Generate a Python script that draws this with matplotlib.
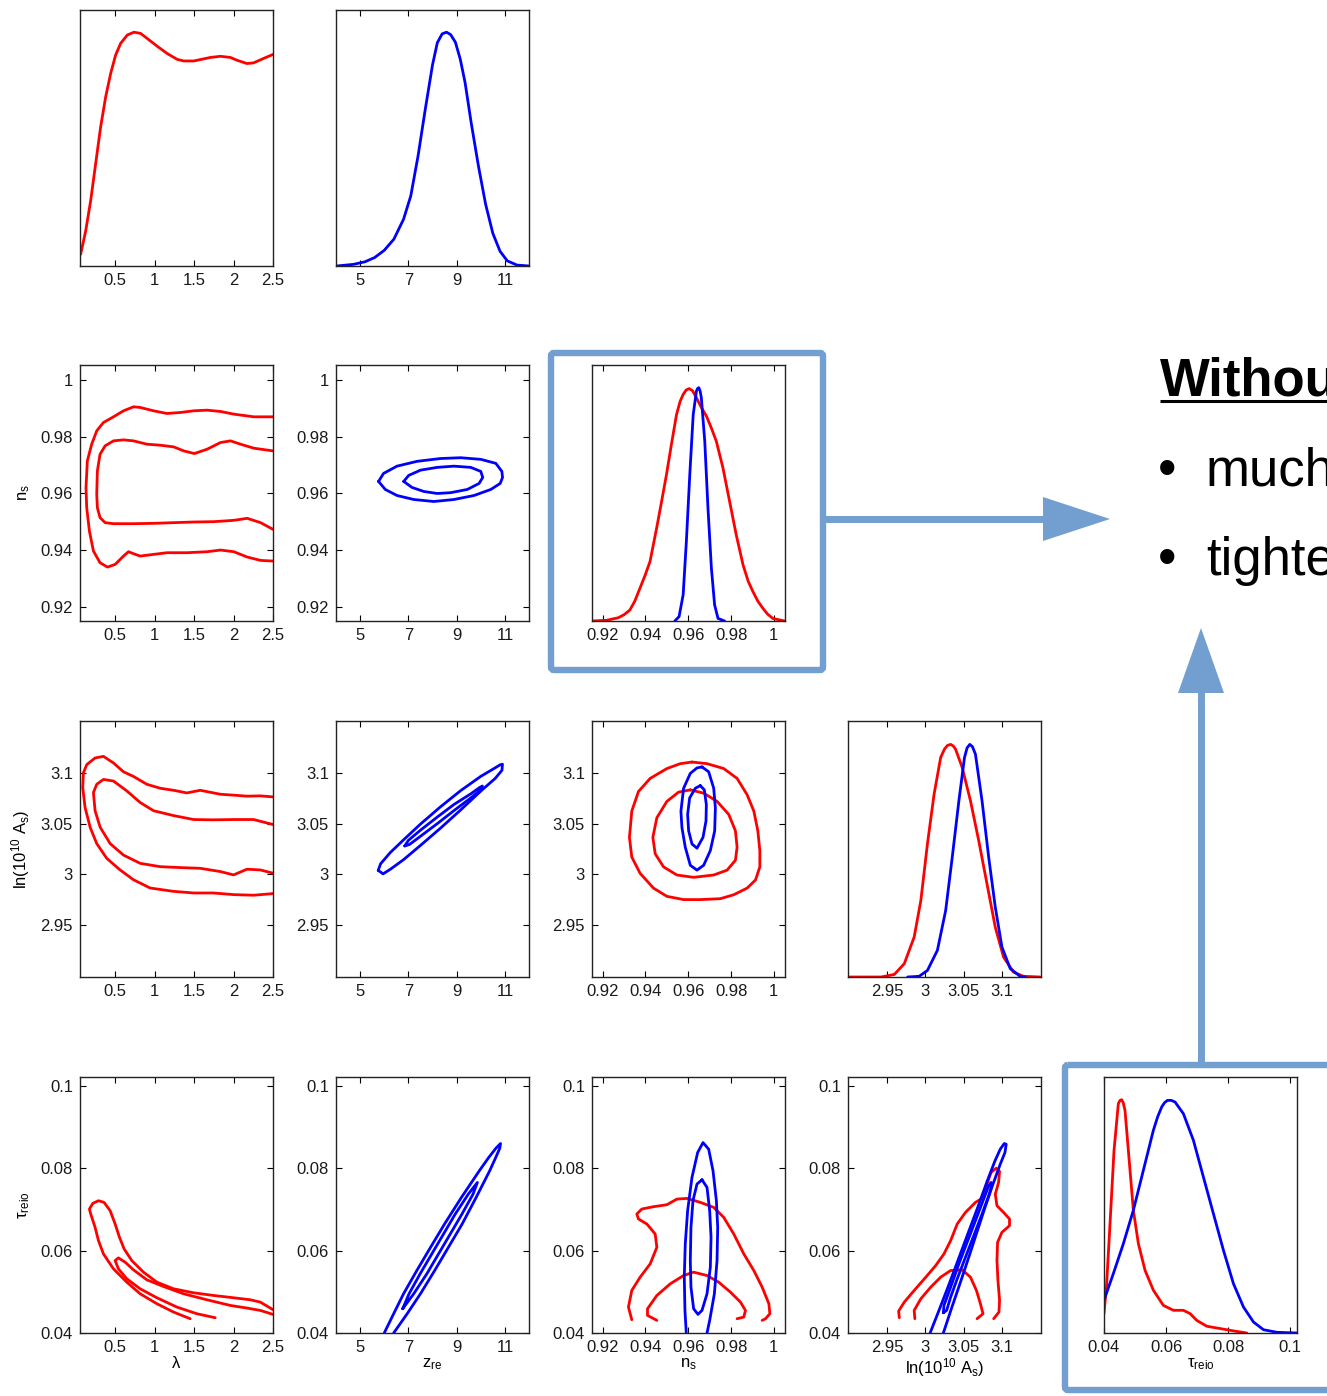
import matplotlib
matplotlib.use('Agg')
import matplotlib.pyplot as plt
from matplotlib.patches import Polygon, FancyBboxPatch

plt.rcParams['font.family'] = ['Liberation Sans', 'DejaVu Sans']
plt.rcParams['mathtext.fontset'] = 'custom'
plt.rcParams['mathtext.rm'] = 'Liberation Sans'
plt.rcParams['mathtext.it'] = 'Liberation Sans:italic'
plt.rcParams['mathtext.default'] = 'regular'

RED = '#ff0000'
BLUE = '#0000ff'
FRAME = '#729fcf'

# ---- parameter ranges / ticks ----
lam_lim = (0.055, 2.5)
lam_ticks = [0.5, 1, 1.5, 2, 2.5]
lam_labels = ['0.5', '1', '1.5', '2', '2.5']
zre_lim = (4, 12)
zre_ticks = [5, 7, 9, 11]
zre_labels = ['5', '7', '9', '11']
ns_lim = (0.915, 1.0052)
ns_ticks = [0.92, 0.94, 0.96, 0.98, 1.0]
ns_labels = ['0.92', '0.94', '0.96', '0.98', '1']
las_lim = (2.899, 3.151)
las_ticks = [2.95, 3.0, 3.05, 3.1]
las_labels = ['2.95', '3', '3.05', '3.1']
tau_lim = (0.04, 0.1022)
tau_ticks = [0.04, 0.06, 0.08, 0.1]
tau_labels = ['0.04', '0.06', '0.08', '0.1']

# ---- 1D marginals ----
lam_1d_x = [0.063, 0.127, 0.19, 0.253, 0.316, 0.38, 0.443, 0.506, 0.569, 0.654, 0.738,
            0.822, 0.907, 1.033, 1.159, 1.286, 1.37, 1.497, 1.581, 1.707, 1.834, 1.96,
            2.045, 2.171, 2.255, 2.382, 2.5]
lam_1d_red = [0.05, 0.15, 0.279, 0.437, 0.594, 0.723, 0.823, 0.902, 0.952, 0.988, 1.0,
              0.995, 0.973, 0.94, 0.909, 0.884, 0.877, 0.877, 0.883, 0.892, 0.897, 0.892,
              0.88, 0.866, 0.869, 0.888, 0.905]

zre_1d_x = [4.03, 4.72, 5.2, 5.6, 6.0, 6.4, 6.8, 7.1, 7.4, 7.7, 8.0, 8.2, 8.4, 8.58, 8.75,
            8.95, 9.15, 9.35, 9.6, 9.9, 10.2, 10.5, 10.8, 11.1, 11.5, 12.0]
zre_1d_blue = [0.0, 0.007, 0.018, 0.036, 0.067, 0.115, 0.2, 0.3, 0.47, 0.67, 0.86, 0.955,
               0.993, 1.0, 0.99, 0.957, 0.885, 0.785, 0.615, 0.43, 0.265, 0.14, 0.063,
               0.022, 0.004, 0.0]

ns_1d_red_x = [0.915, 0.9219, 0.9273, 0.930, 0.9327, 0.935, 0.9374, 0.9398, 0.9421, 0.9452,
               0.9475, 0.9498, 0.9522, 0.9545, 0.9562, 0.9576, 0.959, 0.9604, 0.962,
               0.9638, 0.966, 0.9685, 0.9708, 0.9731, 0.9762, 0.9793, 0.9824, 0.9856,
               0.988, 0.9902, 0.9925, 0.9949, 0.997, 0.9995, 1.005]
ns_1d_red = [0.0, 0.003, 0.014, 0.027, 0.047, 0.085, 0.14, 0.195, 0.254, 0.397, 0.51,
             0.626, 0.76, 0.883, 0.94, 0.969, 0.988, 0.994, 0.985, 0.955, 0.915, 0.876,
             0.825, 0.769, 0.655, 0.512, 0.369, 0.24, 0.17, 0.126, 0.085, 0.054, 0.03,
             0.011, 0.0]
ns_1d_blue_x = [0.9537, 0.9557, 0.9576, 0.9591, 0.9607, 0.9623, 0.9638, 0.9643, 0.9649,
                0.9655, 0.9661, 0.9677, 0.9692, 0.9708, 0.9723, 0.9739, 0.977]
ns_1d_blue = [0.0, 0.019, 0.112, 0.34, 0.626, 0.883, 0.983, 0.994, 0.998, 0.985, 0.955,
              0.769, 0.483, 0.226, 0.069, 0.011, 0.0]

las_1d_red_x = [2.9012, 2.9422, 2.9595, 2.9725, 2.9854, 2.9941, 3.0027, 3.0114, 3.02,
                3.025, 3.0287, 3.033, 3.0365, 3.0395, 3.0481, 3.0589, 3.0697, 3.0805,
                3.0913, 3.1021, 3.1151, 3.128, 3.1497]
las_1d_red = [0.0, 0.0, 0.011, 0.057, 0.171, 0.327, 0.569, 0.782, 0.939, 0.975, 0.99,
              0.995, 0.988, 0.974, 0.896, 0.754, 0.583, 0.398, 0.213, 0.085, 0.021, 0.003,
              0.0]
las_1d_blue_x = [2.9768, 2.9919, 3.0027, 3.0157, 3.0265, 3.0351, 3.0438, 3.0511, 3.0545,
                 3.058, 3.0615, 3.0654, 3.074, 3.0827, 3.0913, 3.1, 3.1108, 3.1237, 3.1302]
las_1d_blue = [0.0, 0.003, 0.028, 0.114, 0.284, 0.512, 0.754, 0.939, 0.98, 0.995, 0.985,
               0.953, 0.754, 0.512, 0.299, 0.128, 0.036, 0.003, 0.0]

tau_1d_red_x = [0.04, 0.04086, 0.04194, 0.04323, 0.04462, 0.04515, 0.0457, 0.0462, 0.04677,
                0.04785, 0.04946, 0.05108, 0.05323, 0.05591, 0.05914, 0.06237, 0.06559,
                0.06774, 0.06989, 0.07312, 0.07742, 0.08172, 0.08602]
tau_1d_red = [0.083, 0.211, 0.468, 0.781, 0.981, 0.995, 0.998, 0.985, 0.952, 0.781, 0.525,
              0.382, 0.268, 0.183, 0.118, 0.097, 0.097, 0.083, 0.054, 0.029, 0.019, 0.009,
              0.0]
tau_1d_blue_x = [0.04, 0.04301, 0.04624, 0.04946, 0.05269, 0.05591, 0.0573, 0.0586, 0.0595,
                 0.06043, 0.0617, 0.0629, 0.06559, 0.06882, 0.07204, 0.07527, 0.07849,
                 0.08172, 0.08495, 0.08817, 0.0914, 0.0957, 0.1022]
tau_1d_blue = [0.14, 0.254, 0.382, 0.525, 0.696, 0.867, 0.925, 0.967, 0.985, 0.995, 0.995,
               0.988, 0.938, 0.824, 0.667, 0.51, 0.354, 0.211, 0.111, 0.047, 0.014, 0.003,
               0.0]

# ---- 2D contours (68% inner, 95% outer) ----
# lambda - n_s (red)
lam_ns_out_x = [2.5, 2.258, 2.004, 1.835, 1.665, 1.496, 1.326, 1.157, 0.987, 0.818, 0.733,
                0.606, 0.479, 0.352, 0.267, 0.203, 0.148, 0.131, 0.14, 0.174, 0.225, 0.309,
                0.403, 0.5, 0.606, 0.669, 0.733, 0.818, 0.987, 1.157, 1.411, 1.665, 1.835,
                2.004, 2.174, 2.343, 2.5]
lam_ns_out_y = [0.98694, 0.98694, 0.98788, 0.98882, 0.98929, 0.98906, 0.98847, 0.98812,
                0.98906, 0.99024, 0.99047, 0.98906, 0.98694, 0.98494, 0.982, 0.97729,
                0.97141, 0.962, 0.95494, 0.94671, 0.93965, 0.93553, 0.934, 0.93494,
                0.93788, 0.93941, 0.93871, 0.93788, 0.93847, 0.93906, 0.93906, 0.93941,
                0.94, 0.93941, 0.93753, 0.93635, 0.93612]
lam_ns_in_x = [2.5, 2.258, 2.089, 1.962, 1.835, 1.665, 1.504, 1.369, 1.242, 1.072, 0.903,
               0.733, 0.606, 0.479, 0.373, 0.309, 0.275, 0.267, 0.275, 0.309, 0.373, 0.479,
               0.733, 0.987, 1.242, 1.496, 1.75, 2.004, 2.174, 2.343, 2.5]
lam_ns_in_y = [0.97494, 0.97588, 0.97729, 0.97847, 0.97788, 0.97553, 0.974, 0.97494,
               0.97635, 0.97694, 0.97729, 0.97847, 0.97882, 0.97847, 0.97671, 0.97376,
               0.96788, 0.95965, 0.95494, 0.95141, 0.94965, 0.94929, 0.94929, 0.94941,
               0.94965, 0.94988, 0.95, 0.95047, 0.95118, 0.94965, 0.94729]

# z_re - n_s (blue)
zre_ns_out_x = [5.764, 5.972, 6.528, 7.361, 8.333, 9.167, 10.0, 10.625, 10.875, 10.903,
                10.806, 10.417, 9.722, 8.889, 8.056, 7.222, 6.528, 6.042]
zre_ns_out_y = [0.96418, 0.96701, 0.96956, 0.97126, 0.97225, 0.97253, 0.97196, 0.97055,
                0.96772, 0.96559, 0.96347, 0.96135, 0.95922, 0.95781, 0.9571, 0.95781,
                0.95922, 0.96135]
zre_ns_in_x = [6.806, 7.014, 7.5, 8.194, 8.889, 9.583, 10.0, 10.083, 9.931, 9.444, 8.75,
               8.194, 7.639, 7.153]
zre_ns_in_y = [0.96418, 0.9663, 0.96814, 0.96913, 0.96956, 0.96913, 0.96772, 0.96559,
               0.96347, 0.96135, 0.96021, 0.95993, 0.96064, 0.96205]

# lambda - ln(10^10 A_s) (red)
lam_las_out_x = [2.5, 2.339, 2.17, 2.001, 1.832, 1.578, 1.409, 1.24, 1.071, 0.902, 0.733,
                 0.606, 0.479, 0.352, 0.246, 0.141, 0.098, 0.09, 0.119, 0.183, 0.267, 0.394,
                 0.563, 0.733, 0.944, 1.24, 1.494, 1.747, 2.001, 2.255, 2.5]
lam_las_out_y = [3.0763, 3.0773, 3.077, 3.078, 3.0789, 3.0828, 3.0802, 3.0828, 3.0848,
                 3.0887, 3.0964, 3.101, 3.1097, 3.1162, 3.1146, 3.1081, 3.1, 3.0854, 3.066,
                 3.0465, 3.0303, 3.0158, 3.0044, 2.9947, 2.9866, 2.9833, 2.9817, 2.9817,
                 2.9801, 2.9795, 2.9811]
lam_las_in_x = [2.5, 2.255, 2.001, 1.747, 1.494, 1.24, 0.986, 0.817, 0.648, 0.479, 0.352,
                0.267, 0.225, 0.246, 0.31, 0.437, 0.606, 0.817, 1.071, 1.325, 1.578, 1.832,
                2.001, 2.17, 2.339, 2.5]
lam_las_in_y = [3.0491, 3.054, 3.054, 3.0537, 3.054, 3.0579, 3.0627, 3.0708, 3.0822,
                3.0919, 3.0935, 3.0887, 3.0806, 3.0627, 3.0465, 3.0303, 3.019, 3.0109,
                3.0076, 3.0067, 3.006, 3.0028, 2.9995, 3.0051, 3.0044, 3.0012]

# z_re - ln(10^10 A_s) (blue)
zre_las_out_x = [5.75, 5.85, 6.25, 6.8, 7.5, 8.33, 9.17, 10.0, 10.5, 10.8, 10.9, 10.88,
                 10.6, 10.0, 9.17, 8.33, 7.5, 6.8, 6.25, 5.95]
zre_las_out_y = [3.004, 3.0105, 3.0215, 3.034, 3.0495, 3.0665, 3.0825, 3.0965, 3.1035,
                 3.1078, 3.1085, 3.1025, 3.0945, 3.082, 3.0635, 3.0455, 3.0285, 3.0145,
                 3.005, 3.0005]
zre_las_in_x = [6.85, 7.0, 7.5, 8.2, 8.9, 9.6, 9.95, 10.07, 10.02, 9.6, 8.9, 8.2, 7.5,
                7.05]
zre_las_in_y = [3.028, 3.0335, 3.0435, 3.0565, 3.069, 3.0795, 3.0855, 3.087, 3.0835,
                3.0755, 3.063, 3.050, 3.0375, 3.0295]

# n_s - ln(10^10 A_s)
ns_las_red_out_x = [0.96172, 0.96875, 0.97656, 0.98281, 0.9875, 0.99063, 0.9925, 0.99344,
                    0.99344, 0.99141, 0.9875, 0.98125, 0.975, 0.96563, 0.95781, 0.95,
                    0.94375, 0.9375, 0.93359, 0.9325, 0.93359, 0.93672, 0.94219, 0.95,
                    0.95625]
ns_las_red_out_y = [3.1106, 3.109, 3.1042, 3.0945, 3.0784, 3.0623, 3.0429, 3.0235, 3.0074,
                    2.9945, 2.9865, 2.98, 2.9761, 2.9752, 2.9752, 2.9784, 2.9865, 3.001,
                    3.0171, 3.0365, 3.0623, 3.0816, 3.0945, 3.1042, 3.109]
ns_las_red_in_x = [0.96094, 0.96719, 0.97344, 0.97891, 0.98203, 0.98281, 0.98203, 0.97813,
                   0.97188, 0.9625, 0.95469, 0.94844, 0.94453, 0.94344, 0.94531, 0.95,
                   0.95547]
ns_las_red_in_y = [3.0832, 3.08, 3.0719, 3.059, 3.0429, 3.0268, 3.0139, 3.0042, 2.9994,
                   2.9971, 2.9994, 3.0074, 3.0203, 3.0365, 3.0558, 3.0719, 3.081]
ns_las_blue_out_x = [0.96641, 0.96953, 0.97188, 0.97266, 0.97234, 0.97031, 0.96719,
                     0.96406, 0.96094, 0.95859, 0.95703, 0.95656, 0.95781, 0.96094, 0.96406]
ns_las_blue_out_y = [3.1058, 3.101, 3.0848, 3.0655, 3.0429, 3.0235, 3.009, 3.0042, 3.009,
                     3.0268, 3.0461, 3.0623, 3.0848, 3.0994, 3.1048]
ns_las_blue_in_x = [0.96563, 0.9675, 0.96844, 0.96828, 0.96688, 0.96406, 0.96172, 0.96016,
                    0.95969, 0.96063, 0.96328]
ns_las_blue_in_y = [3.0874, 3.0832, 3.0687, 3.0526, 3.0365, 3.0258, 3.03, 3.0429, 3.059,
                    3.0752, 3.0848]

# lambda - tau (red)
lam_tau_out_x = [1.451, 1.24, 1.029, 0.817, 0.648, 0.479, 0.352, 0.289, 0.246, 0.191,
                 0.174, 0.217, 0.289, 0.36, 0.437, 0.5, 0.555, 0.614, 0.711, 0.859, 1.029,
                 1.24, 1.494, 1.747, 2.001, 2.212, 2.339, 2.445, 2.5]
lam_tau_out_y = [0.04347, 0.04509, 0.04711, 0.04953, 0.05235, 0.05558, 0.05922, 0.06245,
                 0.06568, 0.06891, 0.07012, 0.07149, 0.07214, 0.07174, 0.06972, 0.06649,
                 0.06326, 0.06043, 0.0576, 0.05478, 0.05235, 0.05074, 0.04977, 0.04912,
                 0.04856, 0.04807, 0.04751, 0.0463, 0.04565]
lam_tau_in_x = [1.768, 1.536, 1.282, 1.029, 0.817, 0.648, 0.542, 0.5, 0.542, 0.627, 0.733,
                0.902, 1.113, 1.367, 1.663, 1.959, 2.17, 2.339, 2.5]
lam_tau_in_y = [0.04371, 0.04468, 0.0463, 0.04856, 0.05074, 0.05316, 0.05558, 0.0576,
                0.05825, 0.0572, 0.05534, 0.05292, 0.0513, 0.04953, 0.04807, 0.0467,
                0.04606, 0.04549, 0.04452]

# z_re - tau (blue)
zre_tau_out_x = [6.0, 6.39, 6.8, 7.35, 7.92, 8.5, 9.2, 9.94, 10.33, 10.63, 10.819, 10.79,
                 10.62, 10.37, 9.81, 9.23, 8.66, 8.09, 7.5, 6.95, 6.39]
zre_tau_out_y = [0.04, 0.04468, 0.04953, 0.05518, 0.06083, 0.06649, 0.07295, 0.07941,
                 0.08264, 0.0849, 0.08603, 0.0849, 0.08264, 0.07941, 0.07295, 0.06649,
                 0.06083, 0.05518, 0.04953, 0.04468, 0.04]
zre_tau_in_x = [6.764, 7.028, 7.486, 7.972, 8.458, 8.944, 9.486, 9.861, 9.681, 9.222,
                8.736, 8.25, 7.764, 7.222]
zre_tau_in_y = [0.04589, 0.04953, 0.05437, 0.05922, 0.06406, 0.06891, 0.07375, 0.07658,
                0.07375, 0.06891, 0.06406, 0.05922, 0.05437, 0.04953]

# n_s - tau
ns_tau_blue_out_x = [0.95906, 0.95844, 0.95813, 0.95859, 0.95969, 0.96172, 0.96438,
                     0.96688, 0.96953, 0.97156, 0.97313, 0.97375, 0.97344, 0.97219, 0.97,
                     0.96875]
ns_tau_blue_out_y = [0.04, 0.04549, 0.05357, 0.06164, 0.06972, 0.07779, 0.08385, 0.08627,
                     0.08466, 0.07941, 0.07214, 0.06568, 0.0576, 0.04953, 0.04307, 0.04]
ns_tau_blue_in_x = [0.96641, 0.96875, 0.97, 0.97063, 0.97031, 0.96875, 0.96641, 0.96453,
                    0.9625, 0.96125, 0.96094, 0.96125, 0.96219, 0.96406]
ns_tau_blue_in_y = [0.07723, 0.07537, 0.06972, 0.06326, 0.05599, 0.04953, 0.04549,
                    0.04452, 0.04589, 0.05114, 0.0576, 0.06568, 0.07214, 0.07618]
ns_tau_red_out_x = [0.93359, 0.93203, 0.93359, 0.9375, 0.94219, 0.94531, 0.94453, 0.94063,
                    0.93672, 0.93594, 0.93828, 0.94375, 0.95, 0.95469, 0.95938, 0.96563,
                    0.97188, 0.97656, 0.98125, 0.98594, 0.99063, 0.99453, 0.99766, 0.99813,
                    0.99609, 0.99453]
ns_tau_red_out_y = [0.04323, 0.0463, 0.05034, 0.05357, 0.0568, 0.06083, 0.06406, 0.06649,
                    0.0677, 0.06891, 0.07012, 0.07069, 0.07117, 0.07254, 0.0727, 0.07174,
                    0.07052, 0.0681, 0.06406, 0.05922, 0.05518, 0.05114, 0.04711, 0.04468,
                    0.04347, 0.04307]
ns_tau_red_in_x = [0.94531, 0.94094, 0.94094, 0.94531, 0.95156, 0.95781, 0.9625, 0.96875,
                   0.97422, 0.97969, 0.98438, 0.98672, 0.98594, 0.98281]
ns_tau_red_in_y = [0.04307, 0.04428, 0.04589, 0.04912, 0.05195, 0.05397, 0.05478, 0.05397,
                   0.05235, 0.04993, 0.04751, 0.04549, 0.04388, 0.04347]

# ln(10^10 A_s) - tau
las_tau_blue_out_x = [3.0062, 3.0161, 3.0295, 3.0425, 3.0554, 3.0684, 3.0809, 3.0909,
                      3.0978, 3.103, 3.1056, 3.1039, 3.0978, 3.0883, 3.0779, 3.068, 3.0567,
                      3.0451, 3.0347, 3.0235]
las_tau_blue_out_y = [0.04, 0.04468, 0.05114, 0.05761, 0.06406, 0.07052, 0.07698, 0.08183,
                      0.08466, 0.08603, 0.08587, 0.08385, 0.08102, 0.07618, 0.07052,
                      0.06487, 0.05841, 0.05195, 0.0463, 0.04]
las_tau_blue_in_x = [3.0235, 3.0243, 3.033, 3.0438, 3.0546, 3.0654, 3.0753, 3.0827,
                     3.0857, 3.087, 3.0827, 3.074, 3.0632, 3.0524, 3.0416, 3.033, 3.0278]
las_tau_blue_in_y = [0.04492, 0.0467, 0.05114, 0.0568, 0.06205, 0.06729, 0.07214, 0.07577,
                     0.07658, 0.07602, 0.07335, 0.06891, 0.06366, 0.05841, 0.05316,
                     0.04872, 0.04549]
las_tau_red_out_x = [2.966, 2.9651, 2.9725, 2.9854, 3.0006, 3.0135, 3.0243, 3.033, 3.0416,
                     3.0524, 3.0654, 3.0762, 3.0805, 3.0857, 3.0926, 3.0969, 3.0956, 3.0913,
                     3.0935, 3.1021, 3.1099, 3.1099, 3.1, 3.0943, 3.0935, 3.0948, 3.0969,
                     3.0961, 3.0892]
las_tau_red_out_y = [0.04371, 0.04533, 0.04751, 0.05034, 0.05357, 0.05639, 0.05922,
                     0.06245, 0.06649, 0.06931, 0.07174, 0.07295, 0.07618, 0.079, 0.08005,
                     0.07925, 0.07658, 0.07375, 0.07093, 0.06931, 0.0677, 0.06608, 0.06447,
                     0.06204, 0.0576, 0.05276, 0.04791, 0.04509, 0.04347]
las_tau_red_in_x = [2.9863, 2.9854, 2.9941, 3.007, 3.02, 3.033, 3.0481, 3.0589, 3.0667,
                    3.0719, 3.0753, 3.0675]
las_tau_red_in_y = [0.04347, 0.04549, 0.04832, 0.05114, 0.05357, 0.05518, 0.05534,
                    0.05357, 0.05034, 0.04711, 0.04468, 0.04347]

# ---- layout (pixels) ----
W, H = 1327, 1396
col_left = [80, 336, 592, 848, 1104]
row_top = [10, 365, 721, 1077]
PW, PH = 193, 256

fig = plt.figure(figsize=(W / 100, H / 100), dpi=100)


def panel(col, row, xr, xt, xl, yr=None, yt=None, yl=None):
    ax = fig.add_axes([col_left[col] / W, 1 - (row_top[row] + PH) / H, PW / W, PH / H])
    ax.set_xlim(xr)
    ax.set_xticks(xt)
    ax.set_xticklabels(xl)
    if yr is None:
        ax.set_ylim(0, 1.095)
        ax.set_yticks([])
    else:
        ax.set_ylim(yr)
        ax.set_yticks(yt)
        ax.set_yticklabels(yl)
    ax.tick_params(direction='in', top=True, right=True, length=4, width=0.8,
                   labelsize=12, pad=5, labelcolor='#1a1a1a')
    for s in ax.spines.values():
        s.set_linewidth(1.0)
        s.set_color('#222222')
    return ax


def line(ax, x, y, c, closed=False):
    if closed:
        x = list(x) + [x[0]]
        y = list(y) + [y[0]]
    ax.plot(x, y, color=c, lw=2.0, solid_joinstyle='round', solid_capstyle='round')


# row 0: marginals of lambda and z_re
ax = panel(0, 0, lam_lim, lam_ticks, lam_labels)
line(ax, lam_1d_x, lam_1d_red, RED)
ax = panel(1, 0, zre_lim, zre_ticks, zre_labels)
line(ax, zre_1d_x, zre_1d_blue, BLUE)

# row 1: n_s
ax = panel(0, 1, lam_lim, lam_ticks, lam_labels, ns_lim, ns_ticks, ns_labels)
line(ax, lam_ns_out_x, lam_ns_out_y, RED)
line(ax, lam_ns_in_x, lam_ns_in_y, RED)
ax.set_ylabel('n$_s$', fontsize=12, labelpad=6)
ax = panel(1, 1, zre_lim, zre_ticks, zre_labels, ns_lim, ns_ticks, ns_labels)
line(ax, zre_ns_out_x, zre_ns_out_y, BLUE, closed=True)
line(ax, zre_ns_in_x, zre_ns_in_y, BLUE, closed=True)
ax = panel(2, 1, ns_lim, ns_ticks, ns_labels)
line(ax, ns_1d_red_x, ns_1d_red, RED)
line(ax, ns_1d_blue_x, ns_1d_blue, BLUE)

# row 2: ln(10^10 A_s)
ax = panel(0, 2, lam_lim, lam_ticks, lam_labels, las_lim, las_ticks, las_labels)
line(ax, lam_las_out_x, lam_las_out_y, RED)
line(ax, lam_las_in_x, lam_las_in_y, RED)
ax.set_ylabel('ln(10$^{10}$ A$_s$)', fontsize=12, labelpad=6)
ax = panel(1, 2, zre_lim, zre_ticks, zre_labels, las_lim, las_ticks, las_labels)
line(ax, zre_las_out_x, zre_las_out_y, BLUE, closed=True)
line(ax, zre_las_in_x, zre_las_in_y, BLUE, closed=True)
ax = panel(2, 2, ns_lim, ns_ticks, ns_labels, las_lim, las_ticks, las_labels)
line(ax, ns_las_red_out_x, ns_las_red_out_y, RED, closed=True)
line(ax, ns_las_red_in_x, ns_las_red_in_y, RED, closed=True)
line(ax, ns_las_blue_out_x, ns_las_blue_out_y, BLUE, closed=True)
line(ax, ns_las_blue_in_x, ns_las_blue_in_y, BLUE, closed=True)
ax = panel(3, 2, las_lim, las_ticks, las_labels)
line(ax, las_1d_red_x, las_1d_red, RED)
line(ax, las_1d_blue_x, las_1d_blue, BLUE)

# row 3: tau_reio
ax = panel(0, 3, lam_lim, lam_ticks, lam_labels, tau_lim, tau_ticks, tau_labels)
line(ax, lam_tau_out_x, lam_tau_out_y, RED)
line(ax, lam_tau_in_x, lam_tau_in_y, RED)
ax.set_ylabel('τ$_{reio}$', fontsize=12, labelpad=6)
ax.set_xlabel('λ', fontsize=12, labelpad=1)
ax = panel(1, 3, zre_lim, zre_ticks, zre_labels, tau_lim, tau_ticks, tau_labels)
line(ax, zre_tau_out_x, zre_tau_out_y, BLUE)
line(ax, zre_tau_in_x, zre_tau_in_y, BLUE, closed=True)
ax.set_xlabel('z$_{re}$', fontsize=12, labelpad=1)
ax = panel(2, 3, ns_lim, ns_ticks, ns_labels, tau_lim, tau_ticks, tau_labels)
line(ax, ns_tau_red_out_x, ns_tau_red_out_y, RED)
line(ax, ns_tau_red_in_x, ns_tau_red_in_y, RED)
line(ax, ns_tau_blue_out_x, ns_tau_blue_out_y, BLUE)
line(ax, ns_tau_blue_in_x, ns_tau_blue_in_y, BLUE, closed=True)
ax.set_xlabel('n$_s$', fontsize=12, labelpad=1)
ax = panel(3, 3, las_lim, las_ticks, las_labels, tau_lim, tau_ticks, tau_labels)
line(ax, las_tau_red_out_x, las_tau_red_out_y, RED)
line(ax, las_tau_red_in_x, las_tau_red_in_y, RED)
line(ax, las_tau_blue_out_x, las_tau_blue_out_y, BLUE)
line(ax, las_tau_blue_in_x, las_tau_blue_in_y, BLUE, closed=True)
ax.set_xlabel('ln(10$^{10}$ A$_s$)', fontsize=12, labelpad=1)
ax = panel(4, 3, tau_lim, tau_ticks, tau_labels)
line(ax, tau_1d_red_x, tau_1d_red, RED)
line(ax, tau_1d_blue_x, tau_1d_blue, BLUE)
ax.set_xlabel('τ$_{reio}$', fontsize=12, labelpad=1)

# ---- highlight frames, arrows and side notes (pixel coordinates) ----
ov = fig.add_axes([0, 0, 1, 1], zorder=10)
ov.set_xlim(0, W)
ov.set_ylim(H, 0)
ov.axis('off')
ov.patch.set_alpha(0)

ov.add_patch(FancyBboxPatch((551, 353), 272, 317, boxstyle='round,pad=0,rounding_size=3',
                            fill=False, ec=FRAME, lw=4.6))
ov.plot([823, 1046], [519, 519], color=FRAME, lw=5, solid_capstyle='butt')
ov.add_patch(Polygon([[1043, 497], [1110, 519], [1043, 541]], closed=True, color=FRAME, lw=0))

ov.add_patch(FancyBboxPatch((1065, 1065), 330, 325, boxstyle='round,pad=0,rounding_size=3',
                            fill=False, ec=FRAME, lw=4.6, clip_on=False))
ov.plot([1201, 1201], [1065, 690], color=FRAME, lw=5, solid_capstyle='butt')
ov.add_patch(Polygon([[1178, 693], [1201, 628], [1224, 693]], closed=True, color=FRAME, lw=0))

# side notes run off the right edge of the page
ov.text(1160, 396, 'Without', fontsize=38, fontweight='bold', ha='left', va='baseline',
        color='black')
ov.plot([1160, 1340], [401, 401], color='black', lw=2.2, solid_capstyle='butt')
ov.text(1158, 486, '•', fontsize=38, ha='left', va='baseline', color='black')
ov.text(1206, 486, 'much', fontsize=38, ha='left', va='baseline', color='black')
ov.text(1158, 575, '•', fontsize=38, ha='left', va='baseline', color='black')
ov.text(1206, 575, 'tighter', fontsize=38, ha='left', va='baseline', color='black')

fig.savefig('out.png', dpi=100, facecolor='white')
